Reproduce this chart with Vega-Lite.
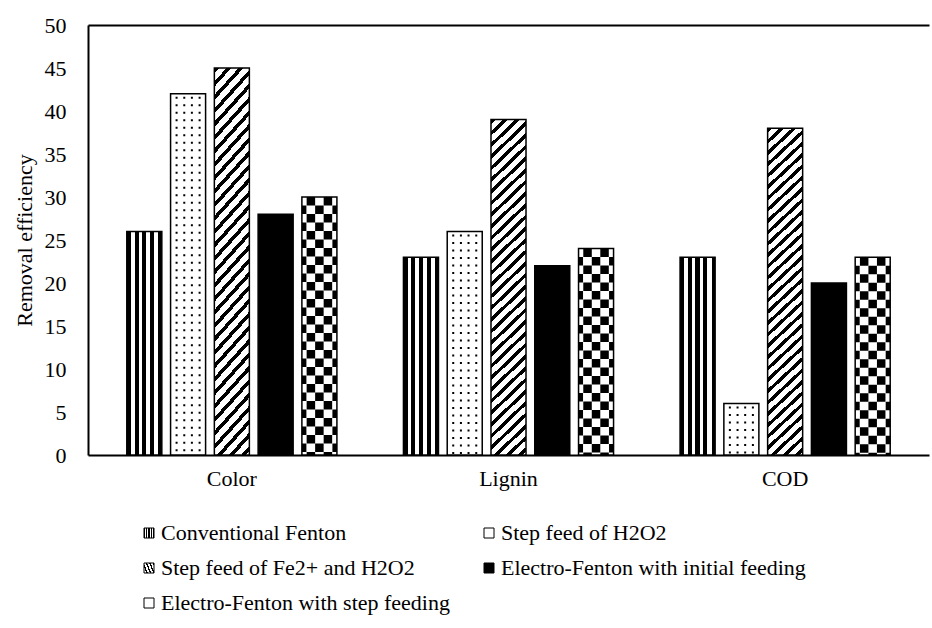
{
  "$schema": "https://vega.github.io/schema/vega-lite/v6.json",
  "width": 841,
  "height": 430,
  "autosize": {"type": "none"},
  "padding": {"left": 88, "top": 25, "right": 3, "bottom": 173},
  "background": "white",
  "config": {
    "view": {"stroke": null},
    "font": "Liberation Serif",
    "axis": {"labelFont": "Liberation Serif", "titleFont": "Liberation Serif", "labelColor": "black", "titleColor": "black"},
    "legend": {"labelFont": "Liberation Serif", "symbolStrokeColor": "black", "symbolStrokeWidth": 1}
  },
  "data": {
    "values": [
      {"group": "Color", "method": "Conventional Fenton", "value": 26},
      {"group": "Color", "method": "Step feed of H2O2", "value": 42},
      {"group": "Color", "method": "Step feed of Fe2+ and H2O2", "value": 45},
      {"group": "Color", "method": "Electro-Fenton with initial feeding", "value": 28},
      {"group": "Color", "method": "Electro-Fenton with step feeding", "value": 30},
      {"group": "Lignin", "method": "Conventional Fenton", "value": 23},
      {"group": "Lignin", "method": "Step feed of H2O2", "value": 26},
      {"group": "Lignin", "method": "Step feed of Fe2+ and H2O2", "value": 39},
      {"group": "Lignin", "method": "Electro-Fenton with initial feeding", "value": 22},
      {"group": "Lignin", "method": "Electro-Fenton with step feeding", "value": 24},
      {"group": "COD", "method": "Conventional Fenton", "value": 23},
      {"group": "COD", "method": "Step feed of H2O2", "value": 6},
      {"group": "COD", "method": "Step feed of Fe2+ and H2O2", "value": 38},
      {"group": "COD", "method": "Electro-Fenton with initial feeding", "value": 20},
      {"group": "COD", "method": "Electro-Fenton with step feeding", "value": 23}
    ]
  },
  "encoding": {
    "y": {
      "field": "value", "type": "quantitative",
      "scale": {"domain": [0, 50], "nice": false},
      "axis": {
        "title": "Removal efficiency", "values": [0, 5, 10, 15, 20, 25, 30, 35, 40, 45, 50],
        "grid": true, "gridColor": "black", "gridWidth": 2,
        "gridOpacity": {"condition": {"test": "datum.value == 50", "value": 1}, "value": 0},
        "ticks": false, "domainColor": "black", "domainWidth": 2,
        "labelPadding": 22, "labelFontSize": 22, "titleFontSize": 22, "titleFontWeight": "normal", "titlePadding": 8
      }
    }
  },
  "layer": [
    {
      "mark": {"type": "bar", "stroke": "black", "strokeWidth": 1.5},
      "encoding": {
        "x": {
          "field": "group", "type": "nominal",
          "scale": {"domain": ["Color", "Lignin", "COD"], "paddingInner": 0, "paddingOuter": 0.02},
          "axis": {"title": null, "labelAngle": 0, "ticks": false, "domainColor": "black", "domainWidth": 2, "labelPadding": 13, "labelFontSize": 22, "labelColor": "black"}
        },
        "xOffset": {
          "field": "method", "type": "nominal",
          "scale": {"domain": ["Conventional Fenton", "Step feed of H2O2", "Step feed of Fe2+ and H2O2", "Electro-Fenton with initial feeding", "Electro-Fenton with step feeding"], "paddingInner": 0.2, "paddingOuter": 0.76}
        },
        "fill": {
          "field": "method", "type": "nominal",
          "scale": {
            "domain": ["Conventional Fenton", "Step feed of Fe2+ and H2O2", "Electro-Fenton with step feeding", "Step feed of H2O2", "Electro-Fenton with initial feeding"],
            "range": [
              {"expr": "{gradient: 'linear', x1: 0, y1: 0, x2: 1, y2: 0, stops: [{offset: 0, color: '#000'}, {offset: 0.12, color: '#000'}, {offset: 0.12, color: '#fff'}, {offset: 0.22, color: '#fff'}, {offset: 0.22, color: '#000'}, {offset: 0.34, color: '#000'}, {offset: 0.34, color: '#fff'}, {offset: 0.44, color: '#fff'}, {offset: 0.44, color: '#000'}, {offset: 0.56, color: '#000'}, {offset: 0.56, color: '#fff'}, {offset: 0.66, color: '#fff'}, {offset: 0.66, color: '#000'}, {offset: 0.78, color: '#000'}, {offset: 0.78, color: '#fff'}, {offset: 0.9, color: '#fff'}, {offset: 0.9, color: '#000'}, {offset: 1, color: '#000'}]}"},
              {"expr": "{gradient: 'linear', x1: 0, y1: 0, x2: 0.11, y2: 1.1, stops: [{offset: 0, color: '#000'}, {offset: 0.0125, color: '#000'}, {offset: 0.0125, color: '#fff'}, {offset: 0.03125, color: '#fff'}, {offset: 0.03125, color: '#000'}, {offset: 0.04375, color: '#000'}, {offset: 0.04375, color: '#fff'}, {offset: 0.0625, color: '#fff'}, {offset: 0.0625, color: '#000'}, {offset: 0.075, color: '#000'}, {offset: 0.075, color: '#fff'}, {offset: 0.09375, color: '#fff'}, {offset: 0.09375, color: '#000'}, {offset: 0.10625, color: '#000'}, {offset: 0.10625, color: '#fff'}, {offset: 0.125, color: '#fff'}, {offset: 0.125, color: '#000'}, {offset: 0.1375, color: '#000'}, {offset: 0.1375, color: '#fff'}, {offset: 0.15625, color: '#fff'}, {offset: 0.15625, color: '#000'}, {offset: 0.16875, color: '#000'}, {offset: 0.16875, color: '#fff'}, {offset: 0.1875, color: '#fff'}, {offset: 0.1875, color: '#000'}, {offset: 0.2, color: '#000'}, {offset: 0.2, color: '#fff'}, {offset: 0.21875, color: '#fff'}, {offset: 0.21875, color: '#000'}, {offset: 0.23125, color: '#000'}, {offset: 0.23125, color: '#fff'}, {offset: 0.25, color: '#fff'}, {offset: 0.25, color: '#000'}, {offset: 0.2625, color: '#000'}, {offset: 0.2625, color: '#fff'}, {offset: 0.28125, color: '#fff'}, {offset: 0.28125, color: '#000'}, {offset: 0.29375, color: '#000'}, {offset: 0.29375, color: '#fff'}, {offset: 0.3125, color: '#fff'}, {offset: 0.3125, color: '#000'}, {offset: 0.325, color: '#000'}, {offset: 0.325, color: '#fff'}, {offset: 0.34375, color: '#fff'}, {offset: 0.34375, color: '#000'}, {offset: 0.35625, color: '#000'}, {offset: 0.35625, color: '#fff'}, {offset: 0.375, color: '#fff'}, {offset: 0.375, color: '#000'}, {offset: 0.3875, color: '#000'}, {offset: 0.3875, color: '#fff'}, {offset: 0.40625, color: '#fff'}, {offset: 0.40625, color: '#000'}, {offset: 0.41875, color: '#000'}, {offset: 0.41875, color: '#fff'}, {offset: 0.4375, color: '#fff'}, {offset: 0.4375, color: '#000'}, {offset: 0.45, color: '#000'}, {offset: 0.45, color: '#fff'}, {offset: 0.46875, color: '#fff'}, {offset: 0.46875, color: '#000'}, {offset: 0.48125, color: '#000'}, {offset: 0.48125, color: '#fff'}, {offset: 0.5, color: '#fff'}, {offset: 0.5, color: '#000'}, {offset: 0.5125, color: '#000'}, {offset: 0.5125, color: '#fff'}, {offset: 0.53125, color: '#fff'}, {offset: 0.53125, color: '#000'}, {offset: 0.54375, color: '#000'}, {offset: 0.54375, color: '#fff'}, {offset: 0.5625, color: '#fff'}, {offset: 0.5625, color: '#000'}, {offset: 0.575, color: '#000'}, {offset: 0.575, color: '#fff'}, {offset: 0.59375, color: '#fff'}, {offset: 0.59375, color: '#000'}, {offset: 0.60625, color: '#000'}, {offset: 0.60625, color: '#fff'}, {offset: 0.625, color: '#fff'}, {offset: 0.625, color: '#000'}, {offset: 0.6375, color: '#000'}, {offset: 0.6375, color: '#fff'}, {offset: 0.65625, color: '#fff'}, {offset: 0.65625, color: '#000'}, {offset: 0.66875, color: '#000'}, {offset: 0.66875, color: '#fff'}, {offset: 0.6875, color: '#fff'}, {offset: 0.6875, color: '#000'}, {offset: 0.7, color: '#000'}, {offset: 0.7, color: '#fff'}, {offset: 0.71875, color: '#fff'}, {offset: 0.71875, color: '#000'}, {offset: 0.73125, color: '#000'}, {offset: 0.73125, color: '#fff'}, {offset: 0.75, color: '#fff'}, {offset: 0.75, color: '#000'}, {offset: 0.7625, color: '#000'}, {offset: 0.7625, color: '#fff'}, {offset: 0.78125, color: '#fff'}, {offset: 0.78125, color: '#000'}, {offset: 0.79375, color: '#000'}, {offset: 0.79375, color: '#fff'}, {offset: 0.8125, color: '#fff'}, {offset: 0.8125, color: '#000'}, {offset: 0.825, color: '#000'}, {offset: 0.825, color: '#fff'}, {offset: 0.84375, color: '#fff'}, {offset: 0.84375, color: '#000'}, {offset: 0.85625, color: '#000'}, {offset: 0.85625, color: '#fff'}, {offset: 0.875, color: '#fff'}, {offset: 0.875, color: '#000'}, {offset: 0.8875, color: '#000'}, {offset: 0.8875, color: '#fff'}, {offset: 0.90625, color: '#fff'}, {offset: 0.90625, color: '#000'}, {offset: 0.91875, color: '#000'}, {offset: 0.91875, color: '#fff'}, {offset: 0.9375, color: '#fff'}, {offset: 0.9375, color: '#000'}, {offset: 0.95, color: '#000'}, {offset: 0.95, color: '#fff'}, {offset: 0.96875, color: '#fff'}, {offset: 0.96875, color: '#000'}, {offset: 0.98125, color: '#000'}, {offset: 0.98125, color: '#fff'}, {offset: 1, color: '#fff'}]}"},
              "white",
              "white",
              "black"
            ]
          },
          "legend": {
            "title": null, "orient": "none", "legendX": 50, "legendY": 497, "columns": 2, "columnPadding": 28, "rowPadding": 13,
            "symbolType": "square", "symbolSize": 100, "symbolStrokeColor": "black", "symbolStrokeWidth": 1, "symbolOpacity": 1,
            "labelFontSize": 22, "labelColor": "black", "labelLimit": 0, "labelOffset": 1
          }
        }
      }
    },
    {
      "transform": [{"filter": "datum.method == 'Step feed of H2O2'"}],
      "mark": {"type": "rule", "color": "black", "strokeWidth": 2, "strokeDash": [2, 5.5], "strokeDashOffset": -3},
      "encoding": {"x": {"field": "group", "type": "nominal", "bandPosition": 0.3002}, "y2": {"datum": 0}}
    },
    {
      "transform": [{"filter": "datum.method == 'Step feed of H2O2'"}],
      "mark": {"type": "rule", "color": "black", "strokeWidth": 2, "strokeDash": [2, 5.5], "strokeDashOffset": -3},
      "encoding": {"x": {"field": "group", "type": "nominal", "bandPosition": 0.328}, "y2": {"datum": 0}}
    },
    {
      "transform": [{"filter": "datum.method == 'Step feed of H2O2'"}],
      "mark": {"type": "rule", "color": "black", "strokeWidth": 2, "strokeDash": [2, 5.5], "strokeDashOffset": -3},
      "encoding": {"x": {"field": "group", "type": "nominal", "bandPosition": 0.3555}, "y2": {"datum": 0}}
    },
    {
      "transform": [{"filter": "datum.method == 'Step feed of H2O2'"}],
      "mark": {"type": "rule", "color": "black", "strokeWidth": 2, "strokeDash": [2, 5.5], "strokeDashOffset": -3},
      "encoding": {"x": {"field": "group", "type": "nominal", "bandPosition": 0.3834}, "y2": {"datum": 0}}
    },
    {
      "transform": [{"filter": "datum.method == 'Electro-Fenton with step feeding'"}],
      "mark": {"type": "rule", "color": "black", "strokeWidth": 8.5, "strokeDash": [8.5, 8.5]},
      "encoding": {"x": {"field": "group", "type": "nominal", "bandPosition": 0.7857}, "y2": {"datum": 0}}
    },
    {
      "transform": [{"filter": "datum.method == 'Electro-Fenton with step feeding'"}],
      "mark": {"type": "rule", "color": "black", "strokeWidth": 8.5, "strokeDash": [8.5, 8.5]},
      "encoding": {"x": {"field": "group", "type": "nominal", "bandPosition": 0.8472}, "y2": {"datum": 0}}
    },
    {
      "transform": [{"filter": "datum.method == 'Electro-Fenton with step feeding'"}],
      "mark": {"type": "rule", "color": "black", "strokeWidth": 8.5, "strokeDash": [8.5, 8.5], "strokeDashOffset": 8.5},
      "encoding": {"x": {"field": "group", "type": "nominal", "bandPosition": 0.8164}, "y2": {"datum": 0}}
    },
    {
      "transform": [{"filter": "datum.method == 'Electro-Fenton with step feeding'"}],
      "mark": {"type": "rule", "color": "black", "strokeWidth": 4.5, "strokeDash": [8.5, 8.5], "strokeDashOffset": 8.5},
      "encoding": {"x": {"field": "group", "type": "nominal", "bandPosition": 0.7613}, "y2": {"datum": 0}}
    },
    {
      "transform": [{"filter": "datum.method == 'Electro-Fenton with step feeding'"}],
      "mark": {"type": "rule", "color": "black", "strokeWidth": 4.5, "strokeDash": [8.5, 8.5], "strokeDashOffset": 8.5},
      "encoding": {"x": {"field": "group", "type": "nominal", "bandPosition": 0.8716}, "y2": {"datum": 0}}
    }
  ]
}
